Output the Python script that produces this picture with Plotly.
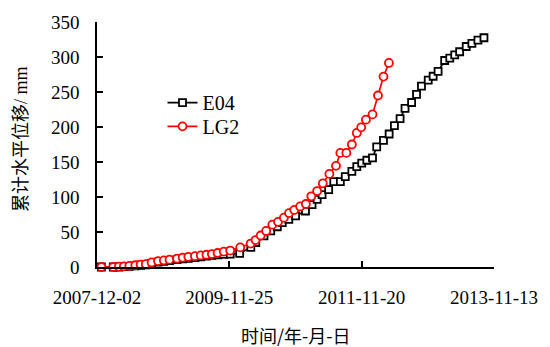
import plotly.graph_objects as go

# Survey dates and cumulative horizontal displacement (mm) for monitoring point E04
e04_dates = [
    "2007-12-26", "2008-02-29", "2008-03-31", "2008-04-27", "2008-05-27", "2008-06-29",
    "2008-07-28", "2008-08-25", "2008-09-26", "2008-10-31", "2008-12-02", "2009-01-02",
    "2009-02-12", "2009-03-15", "2009-04-15", "2009-05-21", "2009-06-22", "2009-07-23",
    "2009-08-22", "2009-09-22", "2009-10-26", "2009-11-30", "2010-01-21", "2010-03-23",
    "2010-04-19", "2010-06-03", "2010-07-10", "2010-08-15", "2010-09-11", "2010-10-17",
    "2010-11-23", "2011-01-16", "2011-02-21", "2011-03-21", "2011-04-17", "2011-05-23",
    "2011-06-20", "2011-07-26", "2011-08-22", "2011-09-27", "2011-10-24", "2011-11-20",
    "2011-12-18", "2012-01-18", "2012-02-10", "2012-03-18", "2012-04-18", "2012-05-17",
    "2012-06-17", "2012-07-14", "2012-08-19", "2012-09-15", "2012-10-12", "2012-11-18",
    "2012-12-15", "2013-01-11", "2013-02-16", "2013-03-16", "2013-04-12", "2013-05-09",
    "2013-06-14", "2013-07-15", "2013-08-17", "2013-09-19",
]
e04_values = [
    0, 0, 0, 0.5, 1, 1.5,
    2.5, 3, 5, 7, 8, 9,
    10.5, 11.5, 12.5, 13.5, 14.5, 15.5,
    16.5, 17.5, 18, 18.5, 19.5, 28,
    35, 44.5, 51.5, 57.5, 63.5, 68,
    73, 80, 89, 96.5, 103.5, 110.5,
    122, 122, 129, 136.5, 143.5, 148.5,
    152.5, 156, 171.5, 181, 190, 202,
    212, 226.5, 235, 246.5, 258.5, 267,
    272.5, 279.5, 295, 298.5, 303, 307.5,
    315, 319.5, 324, 327.5,
]

# Survey dates and cumulative horizontal displacement (mm) for monitoring point LG2
lg2_dates = [
    "2007-12-26", "2008-02-29", "2008-03-31", "2008-04-27", "2008-05-27", "2008-06-29",
    "2008-07-28", "2008-08-25", "2008-09-26", "2008-10-31", "2008-12-02", "2009-01-02",
    "2009-02-12", "2009-03-15", "2009-04-15", "2009-05-21", "2009-06-22", "2009-07-23",
    "2009-08-22", "2009-09-22", "2009-10-26", "2009-11-30", "2010-01-24", "2010-03-22",
    "2010-04-18", "2010-05-16", "2010-06-15", "2010-07-19", "2010-08-19", "2010-09-20",
    "2010-10-18", "2010-11-16", "2010-12-18", "2011-01-18", "2011-02-17", "2011-03-21",
    "2011-04-21", "2011-05-27", "2011-07-02", "2011-07-26", "2011-08-28", "2011-09-27",
    "2011-10-24", "2011-11-17", "2011-12-13", "2012-01-18", "2012-02-17", "2012-03-18",
    "2012-04-17",
]
lg2_values = [
    0, 0, 0.5, 1, 1.5, 2.5,
    3.5, 4, 6.5, 8.5, 9.5, 10.5,
    12, 13.5, 14.5, 15.5, 16.5, 17.5,
    18.5, 20, 22, 23.5, 28, 33.5,
    38.5, 45, 51.5, 60.5, 64.5, 70.5,
    77, 81.5, 86.5, 90, 101, 108.5,
    119.5, 133, 144.5, 163, 163, 175,
    191.5, 199.5, 210.5, 218, 245, 272,
    291.5,
]

x_tick_dates = ["2007-12-02", "2009-11-25", "2011-11-20", "2013-11-13"]
y_ticks = [0, 50, 100, 150, 200, 250, 300, 350]

serif = "Liberation Serif, Times New Roman, serif"
cjk = "Noto Sans CJK SC, sans-serif"

fig = go.Figure()
fig.add_trace(go.Scatter(
    x=e04_dates, y=e04_values, name="E04", mode="lines+markers",
    line=dict(color="black", width=1.7),
    marker=dict(symbol="square", size=7, color="white",
                line=dict(color="black", width=1.8)),
    cliponaxis=False, legend="legend",
))
fig.add_trace(go.Scatter(
    x=lg2_dates, y=lg2_values, name="LG2", mode="lines+markers",
    line=dict(color="#ff0000", width=1.7),
    marker=dict(symbol="circle", size=8, color="white",
                line=dict(color="#ff0000", width=1.8)),
    cliponaxis=False, legend="legend2",
))

axis_common = dict(
    showline=True, linecolor="black", linewidth=1.6,
    ticks="inside", ticklen=6, tickwidth=1.6, tickcolor="black",
    showgrid=False, zeroline=False, mirror=False,
    tickfont=dict(family=serif, size=19, color="black"),
)

legend_common = dict(
    xanchor="left", yanchor="middle",
    font=dict(family=serif, size=20, color="black"),
    bgcolor="rgba(0,0,0,0)", itemwidth=30,
)

fig.update_layout(
    width=550, height=347,
    margin=dict(l=97, r=54, t=18, b=80),
    paper_bgcolor="white", plot_bgcolor="white",
    showlegend=True,
    legend=dict(x=0.165, y=0.671, **legend_common),
    legend2=dict(x=0.165, y=0.574, **legend_common),
    xaxis=dict(
        type="date", range=[x_tick_dates[0], x_tick_dates[-1]],
        tickvals=x_tick_dates, ticktext=x_tick_dates,
        ticklabelstandoff=12,
        **axis_common,
    ),
    yaxis=dict(
        range=[0, 350], tickvals=y_ticks,
        ticklabelstandoff=12,
        **axis_common,
    ),
    annotations=[
        dict(text="累计水平位移/ mm", xref="paper", yref="paper",
             x=0, y=0.522, xanchor="center", yanchor="middle",
             xshift=-76, textangle=-90, showarrow=False,
             font=dict(family="Liberation Serif, Noto Sans CJK SC", size=18, color="black")),
        dict(text="时间/年-月-日", xref="paper", yref="paper",
             x=0.5, y=0, xanchor="center", yanchor="middle",
             yshift=-68, showarrow=False,
             font=dict(family=cjk, size=18, color="black")),
    ],
)

fig.write_html("out.html")
